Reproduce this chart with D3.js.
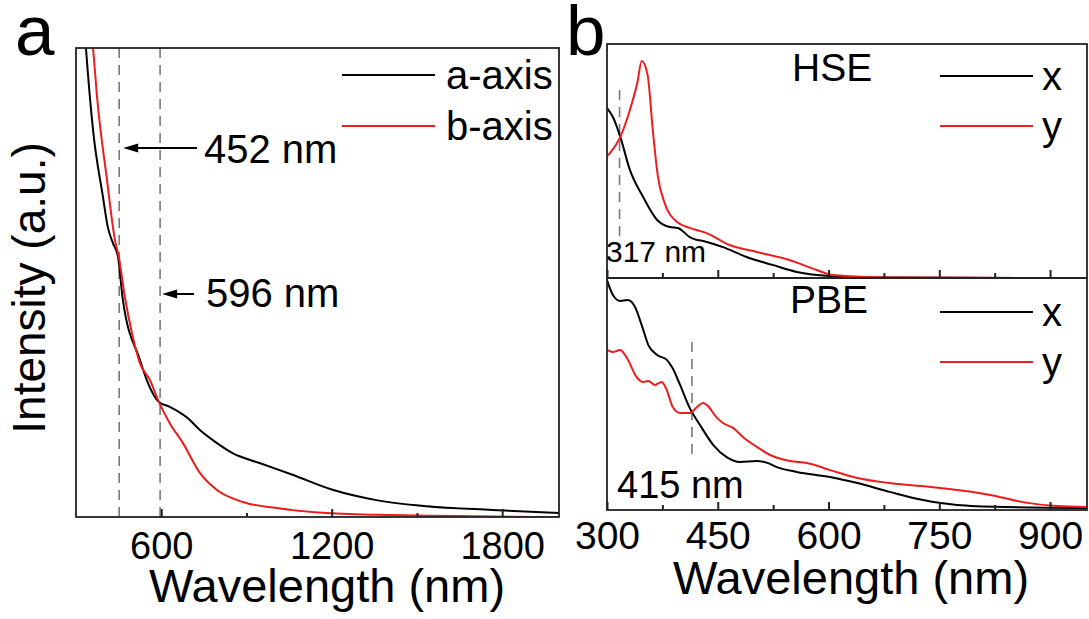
<!DOCTYPE html>
<html>
<head>
<meta charset="utf-8">
<script src="https://cdn.jsdelivr.net/npm/d3@7"></script>
<style>
  html, body { margin: 0; padding: 0; background: #fff; }
  svg { display: block; }
  text { font-family: "Liberation Sans", Arial, sans-serif; fill: #000; }
</style>
</head>
<body>
<svg id="chart" width="1089" height="619"></svg>
<script>
// ---------- Panel a data ----------
const aAxisWl  = [328, 335, 360, 395, 412, 430, 448, 465, 525, 553, 592, 630, 693, 735, 795, 851, 946, 1062, 1203, 1357, 1533, 1765, 2000];
const aAxisInt = [106, 100, 82.5, 68.2, 61.8, 58.4, 55.4, 46.3, 33.5, 28.6, 24.5, 23.5, 21.1, 18.6, 15.8, 13.6, 11.5, 9.0, 5.8, 3.6, 2.3, 1.5, 0.85];
const bAxisWl  = [353, 360, 374, 409, 437, 451, 472, 497, 525, 560, 592, 630, 676, 736, 795, 887, 1006, 1182, 1413, 2000];
const bAxisInt = [106, 100, 89.6, 71.9, 59.1, 55.4, 46.9, 39.2, 32.8, 29.2, 24.5, 20.0, 15.8, 9.4, 5.8, 3.2, 1.9, 0.85, 0.4, 0];
const aMarkers = [452, 596];
const aTicksMajor = [600, 1200, 1800];
const aTicksMinor = [900, 1500];
const aSeriesNames = ["a-axis", "b-axis"];

// ---------- Panel b data (HSE) ----------
const hseXWl  = [300, 308, 318, 331, 349, 368, 385, 396, 412, 435, 457, 489, 524, 557, 601, 682, 949];
const hseXInt = [72.6, 68.8, 60.3, 46.2, 34.6, 24.8, 21.8, 21.4, 17.5, 15.4, 13.2, 9.0, 5.6, 2.6, 0.9, 0.2, 0];
const hseYWl  = [300, 304, 318, 331, 341, 347, 355, 362, 369, 378, 395, 412, 435, 466, 503, 547, 584, 605, 682, 949];
const hseYInt = [52.1, 53.4, 60.3, 71.8, 83.3, 92.7, 86.8, 63.2, 43.2, 32.1, 23.9, 21.4, 19.2, 14.1, 11.1, 7.7, 3.4, 1.3, 0.2, 0];
// ---------- Panel b data (PBE) ----------
const pbeXWl  = [300, 308, 318, 328, 338, 347, 356, 368, 381, 388, 399, 412, 426, 444, 462, 480, 503, 517, 530, 557, 602, 639, 683, 728, 774, 842, 950];
const pbeXInt = [99.1, 92.7, 90.1, 90.5, 87.5, 79.7, 71.1, 66.8, 64.7, 61.6, 53.9, 44.0, 36.6, 28.0, 22.8, 20.7, 21.1, 20.3, 18.5, 16.4, 14.2, 11.6, 7.8, 4.3, 2.2, 1.3, 0.9];
const pbeYWl  = [300, 308, 318, 327, 341, 349, 356, 365, 374, 381, 389, 399, 412, 422, 430, 435, 449, 457, 471, 484, 503, 521, 548, 571, 602, 639, 683, 751, 819, 863, 909, 950];
const pbeYInt = [69.0, 68.1, 69.0, 65.5, 56.9, 55.2, 55.6, 53.9, 55.2, 51.7, 44.4, 41.8, 41.8, 44.4, 46.1, 45.3, 39.7, 37.5, 35.3, 31.5, 27.2, 23.7, 21.1, 20.3, 17.2, 13.8, 11.6, 9.5, 6.5, 3.4, 1.7, 1.3];
const hseMarker = 317;
const pbeMarker = 415;
const bTicksMajor = [300, 450, 600, 750, 900];
const bTicksMinor = [375, 525, 675, 825];
const bSeriesNames = ["x", "y"];

const BLACK = "#000";
const RED = "#ee1c1c";
const FRAME = "#222";

const svg = d3.select("#chart");
svg.append("rect").attr("width", 1089).attr("height", 619).attr("fill", "#fff");

const zip = (xs, ys) => xs.map((x, i) => [x, ys[i]]);

// ---------------- Panel a ----------------
const xA = d3.scaleLinear().domain([300, 2000]).range([76, 559]);
const yA = d3.scaleLinear().domain([0, 100]).range([517, 48]);

const defs = svg.append("defs");
function clip(id, x0, y0, x1, y1) {
  defs.append("clipPath").attr("id", id).append("rect")
    .attr("x", x0).attr("y", y0).attr("width", x1 - x0).attr("height", y1 - y0);
}
clip("clipA", 76, 48, 559, 517);
clip("clipH", 607, 44, 1087, 278);
clip("clipP", 607, 278, 1087, 510);

const gA = svg.append("g");
// dashed markers
gA.selectAll("line.mk").data(aMarkers).join("line")
  .attr("x1", d => xA(d)).attr("x2", d => xA(d))
  .attr("y1", yA.range()[1]).attr("y2", yA.range()[0])
  .attr("stroke", "#7a7a7a").attr("stroke-width", 1.6).attr("stroke-dasharray", "10,7");

const lineA = d3.line().x(d => xA(d[0])).y(d => yA(d[1])).curve(d3.curveMonotoneX);
const gAc = gA.append("g").attr("clip-path", "url(#clipA)");
gAc.append("path").attr("d", lineA(zip(aAxisWl, aAxisInt))).attr("fill", "none").attr("stroke", BLACK).attr("stroke-width", 2);
gAc.append("path").attr("d", lineA(zip(bAxisWl, bAxisInt))).attr("fill", "none").attr("stroke", RED).attr("stroke-width", 2);

// axes a
const axA = gA.append("g").attr("transform", `translate(0,${yA(0)})`);
axA.call(d3.axisBottom(xA).tickValues(aTicksMajor).tickSize(-8).tickPadding(15).tickFormat(d3.format("d")));
axA.append("g").call(d3.axisBottom(xA).tickValues(aTicksMinor).tickSize(-4).tickFormat(""));
axA.selectAll(".domain").remove();
axA.selectAll("line").attr("stroke", FRAME).attr("stroke-width", 2);
axA.selectAll("text").style("font-size", "38px").attr("fill", "#000");

gA.append("rect").attr("x", 76).attr("y", 48).attr("width", 559 - 76).attr("height", 517 - 48)
  .attr("fill", "none").attr("stroke", FRAME).attr("stroke-width", 1.8);

// legend a
const legA = gA.append("g");
aSeriesNames.forEach((n, i) => {
  const yy = 75 + i * 51;
  legA.append("line").attr("x1", 342).attr("x2", 435).attr("y1", yy).attr("y2", yy)
    .attr("stroke", i === 0 ? BLACK : RED).attr("stroke-width", 2);
  legA.append("text").attr("x", 446).attr("y", yy + 14).style("font-size", "40px").text(n);
});

// annotations a
function arrow(g, xTip, xTail, y) {
  g.append("line").attr("x1", xTail).attr("x2", xTip + 10).attr("y1", y).attr("y2", y)
    .attr("stroke", "#000").attr("stroke-width", 2);
  g.append("path").attr("d", `M${xTip},${y} L${xTip + 15},${y - 4.5} L${xTip + 15},${y + 4.5} Z`).attr("fill", "#000");
}
arrow(gA, xA(aMarkers[0]) + 4, 197, 148);
arrow(gA, xA(aMarkers[1]) + 2, 194, 294);
gA.append("text").attr("x", 204).attr("y", 163).style("font-size", "40px").text(aMarkers[0] + " nm");
gA.append("text").attr("x", 206).attr("y", 307).style("font-size", "40px").text(aMarkers[1] + " nm");

// titles a
svg.append("text").attr("x", 327).attr("y", 602).attr("text-anchor", "middle")
  .style("font-size", "47px").text("Wavelength (nm)");
svg.append("text").attr("transform", "translate(45,288) rotate(-90)").attr("text-anchor", "middle")
  .style("font-size", "46px").text("Intensity (a.u.)");
svg.append("text").attr("x", 15).attr("y", 55).style("font-size", "71px").text("a");

// ---------------- Panel b ----------------
const xB = d3.scaleLinear().domain([300, 950]).range([607, 1087]);
const yH = d3.scaleLinear().domain([0, 100]).range([278, 44]);
const yP = d3.scaleLinear().domain([0, 100]).range([510, 278]);

const gB = svg.append("g");
// dashed markers
gB.append("line").attr("x1", xB(hseMarker)).attr("x2", xB(hseMarker)).attr("y1", 90).attr("y2", 240)
  .attr("stroke", "#7a7a7a").attr("stroke-width", 1.6).attr("stroke-dasharray", "10,7");
gB.append("line").attr("x1", xB(pbeMarker)).attr("x2", xB(pbeMarker)).attr("y1", 342).attr("y2", 460)
  .attr("stroke", "#7a7a7a").attr("stroke-width", 1.6).attr("stroke-dasharray", "10,7");

const lineH = d3.line().x(d => xB(d[0])).y(d => yH(d[1])).curve(d3.curveMonotoneX);
const lineP = d3.line().x(d => xB(d[0])).y(d => yP(d[1])).curve(d3.curveMonotoneX);
const gH = gB.append("g").attr("clip-path", "url(#clipH)");
gH.append("path").attr("d", lineH(zip(hseXWl, hseXInt))).attr("fill", "none").attr("stroke", BLACK).attr("stroke-width", 2);
gH.append("path").attr("d", lineH(zip(hseYWl, hseYInt))).attr("fill", "none").attr("stroke", RED).attr("stroke-width", 2);
const gP = gB.append("g").attr("clip-path", "url(#clipP)");
gP.append("path").attr("d", lineP(zip(pbeXWl, pbeXInt))).attr("fill", "none").attr("stroke", BLACK).attr("stroke-width", 2);
gP.append("path").attr("d", lineP(zip(pbeYWl, pbeYInt))).attr("fill", "none").attr("stroke", RED).attr("stroke-width", 2);

// axes b
function ticksB(y, labels) {
  const ax = gB.append("g").attr("transform", `translate(0,${y})`);
  ax.call(d3.axisBottom(xB).tickValues(bTicksMajor).tickSize(-8).tickPadding(11)
    .tickFormat(labels ? d3.format("d") : ""));
  ax.append("g").call(d3.axisBottom(xB).tickValues(bTicksMinor).tickSize(-5).tickFormat(""));
  ax.selectAll(".domain").remove();
  ax.selectAll("line").attr("stroke", FRAME).attr("stroke-width", 2);
  ax.selectAll("text").style("font-size", "39px").attr("fill", "#000");
}
ticksB(yH(0), false);
ticksB(yP(0), true);

gB.append("rect").attr("x", 607).attr("y", 44).attr("width", 1087 - 607).attr("height", 278 - 44)
  .attr("fill", "none").attr("stroke", FRAME).attr("stroke-width", 1.8);
gB.append("rect").attr("x", 607).attr("y", 278).attr("width", 1087 - 607).attr("height", 510 - 278)
  .attr("fill", "none").attr("stroke", FRAME).attr("stroke-width", 1.8);

// labels in b
gB.append("text").attr("x", 792).attr("y", 81).style("font-size", "39px").text("HSE");
gB.append("text").attr("x", 790).attr("y", 313).style("font-size", "39px").text("PBE");
gB.append("text").attr("x", 606).attr("y", 262).style("font-size", "30px").text(hseMarker + " nm");
gB.append("text").attr("x", 617).attr("y", 498).style("font-size", "38px").text(pbeMarker + " nm");

function legendB(y0) {
  bSeriesNames.forEach((n, i) => {
    const yy = y0 + i * 50;
    gB.append("line").attr("x1", 940).attr("x2", 1033).attr("y1", yy).attr("y2", yy)
      .attr("stroke", i === 0 ? BLACK : RED).attr("stroke-width", 2);
    gB.append("text").attr("x", 1042).attr("y", yy + 14).style("font-size", "40px").text(n);
  });
}
legendB(76);
legendB(312);

svg.append("text").attr("x", 851).attr("y", 594).attr("text-anchor", "middle")
  .style("font-size", "47px").text("Wavelength (nm)");
svg.append("text").attr("x", 566).attr("y", 55).style("font-size", "71px").text("b");
</script>
</body>
</html>
